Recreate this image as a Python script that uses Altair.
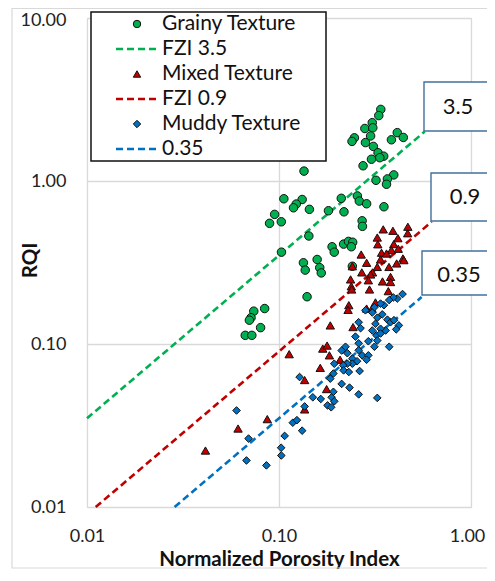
import altair as alt
import pandas as pd

# ---------------- data ----------------
grainy_x = [0.339, 0.331, 0.306, 0.280, 0.308, 0.300, 0.247, 0.240, 0.282, 0.413,
            0.385, 0.444, 0.310, 0.328, 0.351, 0.335, 0.303, 0.274, 0.135, 0.396,
            0.367, 0.320, 0.363, 0.106, 0.132, 0.123, 0.119, 0.144, 0.211, 0.256,
            0.262, 0.286, 0.352, 0.181, 0.218, 0.0949, 0.0893, 0.1028, 0.143, 0.103,
            0.271, 0.272, 0.189, 0.194, 0.217, 0.230, 0.242, 0.238, 0.134, 0.137,
            0.158, 0.163, 0.166, 0.241, 0.140, 0.0842, 0.0739, 0.0715, 0.0701, 0.0802,
            0.0667, 0.0722]
grainy_y = [2.75, 2.52, 2.28, 2.10, 2.12, 1.89, 1.84, 1.75, 1.72, 1.98,
            1.79, 1.85, 1.63, 1.49, 1.42, 1.39, 1.36, 1.24, 1.15, 1.09,
            1.03, 1.01, 0.955, 0.778, 0.770, 0.722, 0.685, 0.670, 0.783, 0.810,
            0.753, 0.725, 0.695, 0.657, 0.647, 0.624, 0.550, 0.562, 0.460, 0.366,
            0.570, 0.527, 0.395, 0.366, 0.410, 0.426, 0.421, 0.395, 0.315, 0.284,
            0.330, 0.294, 0.273, 0.300, 0.195, 0.165, 0.159, 0.145, 0.140, 0.126,
            0.113, 0.113]

mixed_x = [0.469, 0.468, 0.349, 0.325, 0.327, 0.416, 0.396, 0.418, 0.385, 0.342,
           0.363, 0.442, 0.447, 0.268, 0.286, 0.338, 0.374, 0.410, 0.241, 0.325,
           0.307, 0.270, 0.381, 0.381, 0.346, 0.300, 0.292, 0.236, 0.238, 0.239,
           0.296, 0.371, 0.231, 0.229, 0.286, 0.318, 0.305, 0.185, 0.243, 0.113,
           0.169, 0.178, 0.183, 0.208, 0.164, 0.136, 0.177, 0.136, 0.0869, 0.0612,
           0.0414, 0.392]
mixed_y = [0.524, 0.478, 0.505, 0.450, 0.409, 0.446, 0.410, 0.384, 0.377, 0.363,
           0.359, 0.335, 0.327, 0.354, 0.315, 0.330, 0.297, 0.312, 0.300, 0.297,
           0.275, 0.275, 0.258, 0.240, 0.242, 0.267, 0.246, 0.249, 0.226, 0.216,
           0.216, 0.211, 0.173, 0.162, 0.165, 0.180, 0.165, 0.130, 0.127, 0.0866,
           0.0937, 0.0978, 0.0852, 0.0801, 0.0714, 0.0601, 0.0529, 0.0397, 0.0346, 0.0303,
           0.0222, 0.495]

muddy_x = [0.440, 0.413, 0.394, 0.375, 0.352, 0.338, 0.314, 0.306, 0.325, 0.345,
           0.367, 0.381, 0.421, 0.408, 0.359, 0.338, 0.318, 0.306, 0.322, 0.338,
           0.260, 0.266, 0.250, 0.260, 0.292, 0.325, 0.314, 0.375, 0.222, 0.212,
           0.227, 0.260, 0.271, 0.292, 0.286, 0.241, 0.255, 0.241, 0.227, 0.216,
           0.194, 0.217, 0.231, 0.263, 0.192, 0.185, 0.128, 0.212, 0.233, 0.260,
           0.325, 0.150, 0.165, 0.188, 0.194, 0.179, 0.187, 0.136, 0.0601, 0.0694,
           0.0677, 0.0860, 0.1026, 0.1028, 0.107, 0.118, 0.124, 0.132, 0.192, 0.282,
           0.397]
muddy_y = [0.2025, 0.190, 0.193, 0.186, 0.173, 0.177, 0.168, 0.156, 0.145, 0.152,
           0.141, 0.136, 0.130, 0.123, 0.121, 0.124, 0.133, 0.121, 0.113, 0.116,
           0.136, 0.125, 0.111, 0.101, 0.104, 0.105, 0.0962, 0.0962, 0.0962, 0.0912,
           0.0878, 0.0915, 0.0852, 0.0852, 0.0801, 0.0813, 0.0784, 0.0757, 0.0757, 0.0740,
           0.0757, 0.0689, 0.0673, 0.0683, 0.0659, 0.0613, 0.0627, 0.0569, 0.0540, 0.0491,
           0.0467, 0.0471, 0.0460, 0.0471, 0.0445, 0.0420, 0.0409, 0.0414, 0.0391, 0.0263,
           0.0193, 0.0180, 0.0231, 0.0207, 0.0273, 0.0329, 0.0341, 0.0294, 0.0509, 0.161,
           0.140]

# FZI reference lines (two end points each)
fzi35_x = [0.01, 0.574]
fzi35_y = [0.035, 2.01]
fzi09_x = [0.0111, 0.624]
fzi09_y = [0.01, 0.562]
fzi035_x = [0.0286, 0.553]
fzi035_y = [0.01, 0.194]

x_ticks = [0.01, 0.1, 1.0]
y_ticks = [0.01, 0.1, 1.0, 10.0]

legend_labels = ["Grainy Texture", "FZI 3.5", "Mixed Texture", "FZI 0.9", "Muddy Texture", "0.35"]
box_labels = ["3.5", "0.9", "0.35"]

GREEN = "#00B050"
RED = "#C00000"
BLUE = "#0070C0"
GRID = "#D9D9D9"
FONT = "Lato"

W, H = 384, 489

xs = alt.Scale(type="log", domain=[0.01, 1.0], nice=False)
ys = alt.Scale(type="log", domain=[0.01, 10.0], nice=False)

x_axis = alt.Axis(values=x_ticks, format=".2f", grid=True, gridColor=GRID, gridWidth=1.3,
                  domain=False, ticks=False, tickSize=0, labelPadding=20, labelFontSize=18,
                  labelFlush=False, labelOverlap=False,
                  labelOffset={"condition": {"test": "datum.value >= 1", "value": -4}, "value": 0},
                  labelFont=FONT, labelColor="#222", title="Normalized Porosity Index",
                  titleFont=FONT, titleFontSize=20.5, titleFontWeight="bold", titleColor="#111",
                  titleY=58, titleBaseline="alphabetic")
y_axis = alt.Axis(values=y_ticks, format=".2f", grid=True, gridColor=GRID, gridWidth=1.3,
                  domain=False, ticks=False, tickSize=0, labelPadding=21, labelFontSize=18,
                  labelFlush=False, labelOverlap=False,
                  labelOffset={"condition": {"test": "datum.value >= 10", "value": 2}, "value": 0},
                  labelFont=FONT, labelColor="#222", title="RQI", titleFont=FONT,
                  titleFontSize=20.5, titleFontWeight="bold", titleColor="#111", titleX=-57,
                  titleY=242, titleBaseline="middle", titleAngle=-90)


def pts(xv, yv, shape, color, size):
    df = pd.DataFrame({"x": xv, "y": yv})
    return alt.Chart(df).mark_point(shape=shape, filled=True, fill=color, stroke="#111",
                                    strokeWidth=1, size=size, opacity=1).encode(
        x=alt.X("x:Q", scale=xs, axis=x_axis),
        y=alt.Y("y:Q", scale=ys, axis=y_axis))


def dline(xv, yv, color):
    df = pd.DataFrame({"x": xv, "y": yv})
    return alt.Chart(df).mark_line(color=color, strokeWidth=2.6, strokeDash=[7, 4]).encode(
        x=alt.X("x:Q", scale=xs), y=alt.Y("y:Q", scale=ys))


one = pd.DataFrame({"a": [0]})

frame = alt.Chart(one).mark_rect(fill="transparent", stroke=GRID, strokeWidth=1.2).encode(
    x=alt.value(-75), x2=alt.value(420), y=alt.value(-9.5), y2=alt.value(550))

layers = [frame,
          dline(fzi35_x, fzi35_y, GREEN),
          dline(fzi09_x, fzi09_y, RED),
          dline(fzi035_x, fzi035_y, BLUE),
          pts(grainy_x, grainy_y, "circle", GREEN, 72),
          pts(mixed_x, mixed_y, "triangle-up", RED, 70),
          pts(muddy_x, muddy_y, "diamond", BLUE, 58)]

# label boxes
boxes = [(box_labels[0], 337, 64, 113, 371, 89),
         (box_labels[1], 344, 155, 203, 378, 179),
         (box_labels[2], 335, 233, 277, 372, 257)]
for lab, bx, by1, by2, tx, ty in boxes:
    layers.append(alt.Chart(one).mark_rect(fill="white", stroke="#41719C", strokeWidth=1.4).encode(
        x=alt.value(bx), x2=alt.value(bx + 80), y=alt.value(by1), y2=alt.value(by2)))
    layers.append(alt.Chart(pd.DataFrame({"t": [lab]})).mark_text(
        font=FONT, fontSize=22, color="#111", align="center", baseline="middle").encode(
        x=alt.value(tx), y=alt.value(ty), text="t:N"))

# legend
layers.append(alt.Chart(one).mark_rect(fill="white", stroke="#111", strokeWidth=1.5).encode(
    x=alt.value(4), x2=alt.value(239), y=alt.value(-6), y2=alt.value(143)))
leg_kind = [("point", "circle", GREEN), ("line", None, GREEN), ("point", "triangle-up", RED),
            ("line", None, RED), ("point", "diamond", BLUE), ("line", None, BLUE)]
for i, (kind, shp, col) in enumerate(leg_kind):
    yy = 6 + 25 * i
    if kind == "point":
        layers.append(alt.Chart(one).mark_point(shape=shp, filled=True, fill=col, stroke="#111",
                                                strokeWidth=1, size=55, opacity=1).encode(
            x=alt.value(50), y=alt.value(yy)))
    else:
        layers.append(alt.Chart(one).mark_rule(color=col, strokeWidth=2.6, strokeDash=[7, 4]).encode(
            x=alt.value(29), x2=alt.value(71), y=alt.value(yy)))
    layers.append(alt.Chart(pd.DataFrame({"t": [legend_labels[i]]})).mark_text(
        font=FONT, fontSize=21, color="#111", align="left", baseline="middle").encode(
        x=alt.value(75), y=alt.value(yy), text="t:N"))

chart = alt.layer(*layers).properties(
    width=W, height=H,
    autosize=alt.AutoSizeParams(type="none"),
    padding={"left": 79, "top": 10, "right": 16, "bottom": 62},
).configure_view(stroke=None).configure(background="white")

chart.save("out.html", embed_options={"renderer": "svg", "actions": False})
